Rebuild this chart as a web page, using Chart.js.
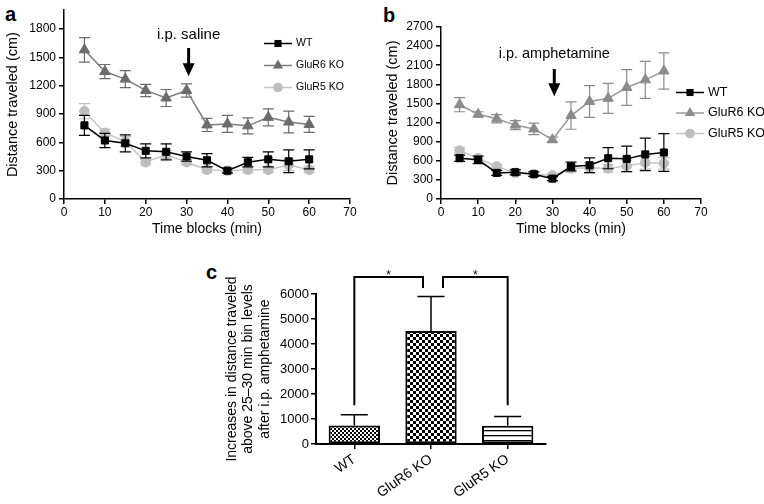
<!DOCTYPE html>
<html>
<head>
<meta charset="utf-8">
<script src="https://cdn.jsdelivr.net/npm/chart.js@4.4.1/dist/chart.umd.min.js"></script>
<style>
  body { margin: 0; background: #fff; width: 764px; height: 504px; position: relative; overflow: hidden; }
  canvas { position: absolute; }
  .tag { position: absolute; font: bold 20px 'Liberation Sans', Arial, sans-serif; line-height: 20px; color: #000; }
</style>
</head>
<body>
<div class="tag" style="left:5px;top:4px">a</div>
<div class="tag" style="left:383px;top:5px">b</div>
<div class="tag" style="left:206px;top:262px">c</div>
<canvas id="chartA" width="360" height="240" style="left:0;top:0"></canvas>
<canvas id="chartB" width="384" height="240" style="left:380px;top:0"></canvas>
<canvas id="chartC" width="350" height="254" style="left:200px;top:250px"></canvas>
<script>
// time bins (min)
const times = [5, 10, 15, 20, 25, 30, 35, 40, 45, 50, 55, 60];
const seriesNames = ['WT', 'GluR6 KO', 'GluR5 KO'];

// panel a: saline
const wtSaline = [780, 620, 590, 510, 500, 450, 410, 300, 390, 420, 400, 420];
const wtSalineErr = [105, 75, 90, 75, 85, 50, 70, 25, 50, 80, 120, 100];
const g6Saline = [1580, 1350, 1270, 1150, 1070, 1150, 785, 795, 775, 865, 815, 790];
const g6SalineErr = [130, 75, 90, 65, 90, 70, 70, 90, 85, 90, 115, 85];
const g5Saline = [930, 700, 610, 390, 470, 390, 310, 300, 310, 310, 360, 310];
const g5SalineErr = [80, 40, 50, 30, 40, 30, 30, 25, 30, 30, 60, 30];

// panel b: amphetamine
const wtAmph = [640, 615, 410, 420, 390, 320, 510, 530, 640, 630, 700, 730];
const wtAmphErr = [50, 60, 40, 40, 35, 30, 70, 115, 165, 200, 255, 295];
const g6Amph = [1480, 1330, 1260, 1160, 1100, 930, 1310, 1530, 1580, 1750, 1870, 2010];
const g6AmphErr = [110, 40, 65, 70, 90, 40, 215, 250, 235, 280, 290, 285];
const g5Amph = [760, 640, 510, 410, 390, 370, 480, 490, 480, 520, 570, 560];
const g5AmphErr = [50, 40, 30, 30, 30, 30, 60, 80, 60, 90, 100, 90];

// panel c: increase above 25-30 min bins
const barNames = ['WT', 'GluR6 KO', 'GluR5 KO'];
const barValues = [745, 4520, 730];
const barErr = [425, 1380, 375];
const sigPairs = [[0, 1], [1, 2]];
const sigLegBase = 1550, sigTop = 6680, sigInner = 6240;

const FONT = "'Liberation Sans', Arial, sans-serif";
Chart.defaults.font.family = FONT;
Chart.defaults.color = '#000';

function pts(vals) {
    return times.map((t, i) => ({ x: t, y: vals[i] }));
}

function drawMarker(ctx, style, x, y, r, color) {
    ctx.fillStyle = color;
    ctx.beginPath();
    if (style === 'rect') {
        const s = Math.SQRT1_2 * r;
        ctx.rect(x - s, y - s, 2 * s, 2 * s);
    } else if (style === 'triangle') {
        ctx.moveTo(x, y - r);
        ctx.lineTo(x + Math.sin(2 * Math.PI / 3) * r, y + r / 2);
        ctx.lineTo(x - Math.sin(2 * Math.PI / 3) * r, y + r / 2);
        ctx.closePath();
    } else {
        ctx.arc(x, y, r, 0, Math.PI * 2);
    }
    ctx.fill();
}

// whiskers under each dataset's markers
const errorBars = {
    id: 'errorBars',
    beforeDatasetDraw(chart, args) {
        const ds = chart.data.datasets[args.index];
        if (!ds.errors) return;
        const { ctx } = chart;
        const yScale = chart.scales.y;
        const cap = ds.capHalf || 5.5;
        ctx.save();
        ctx.strokeStyle = ds.errorColor || ds.borderColor;
        ctx.lineWidth = ds.errorWidth || 1.2;
        args.meta.data.forEach((el, i) => {
            const raw = ds.data[i];
            const v = typeof raw === 'object' ? raw.y : raw;
            const e = ds.errors[i];
            const top = yScale.getPixelForValue(v + e);
            const bot = ds.upOnly ? el.y : yScale.getPixelForValue(v - e);
            ctx.beginPath();
            ctx.moveTo(el.x, top);
            ctx.lineTo(el.x, bot);
            ctx.moveTo(el.x - cap, top);
            ctx.lineTo(el.x + cap, top);
            if (!ds.upOnly) {
                ctx.moveTo(el.x - cap, bot);
                ctx.lineTo(el.x + cap, bot);
            }
            ctx.stroke();
        });
        ctx.restore();
    }
};

// legend with line + marker
const lineLegend = {
    id: 'lineLegend',
    afterDraw(chart, args, opts) {
        const { ctx } = chart;
        chart.data.datasets.forEach((ds, i) => {
            const y = opts.y + i * opts.dy;
            ctx.save();
            ctx.strokeStyle = ds.borderColor;
            ctx.lineWidth = ds.borderWidth;
            ctx.beginPath();
            ctx.moveTo(opts.x, y);
            ctx.lineTo(opts.x + opts.len, y);
            ctx.stroke();
            drawMarker(ctx, ds.pointStyle, opts.x + opts.len / 2, y, ds.pointRadius, ds.pointBackgroundColor);
            ctx.fillStyle = '#000';
            ctx.font = opts.font;
            ctx.textBaseline = 'middle';
            ctx.fillText(ds.label, opts.x + opts.len + opts.gap, y);
            ctx.restore();
        });
    }
};

// injection arrow and label
const doseMark = {
    id: 'doseMark',
    afterDraw(chart, args, opts) {
        const { ctx } = chart;
        const xs = chart.scales.x, ys = chart.scales.y;
        const px = xs.getPixelForValue(opts.at);
        const y0 = ys.getPixelForValue(opts.from);
        const y1 = ys.getPixelForValue(opts.to);
        ctx.save();
        ctx.strokeStyle = '#000';
        ctx.fillStyle = '#000';
        ctx.lineWidth = 3;
        ctx.beginPath();
        ctx.moveTo(px, y0);
        ctx.lineTo(px, y1 - 11);
        ctx.stroke();
        ctx.beginPath();
        ctx.moveTo(px - 6, y1 - 13);
        ctx.lineTo(px + 6, y1 - 13);
        ctx.lineTo(px, y1);
        ctx.closePath();
        ctx.fill();
        ctx.font = opts.font;
        ctx.textAlign = 'center';
        ctx.textBaseline = 'middle';
        ctx.fillText(opts.text, px, ys.getPixelForValue(opts.textY));
        ctx.restore();
    }
};

// significance brackets for panel c
const sigBrackets = {
    id: 'sigBrackets',
    afterDraw(chart) {
        const { ctx } = chart;
        const xs = chart.scales.x, ys = chart.scales.y;
        const yBase = ys.getPixelForValue(sigLegBase);
        const yTop = ys.getPixelForValue(sigTop);
        const yIn = ys.getPixelForValue(sigInner);
        ctx.save();
        ctx.strokeStyle = '#000';
        ctx.fillStyle = '#000';
        ctx.lineWidth = 2;
        sigPairs.forEach(([a, b]) => {
            // the tall bar (index 1) gets the short inner leg
            let xa = xs.getPixelForValue(a), xb = xs.getPixelForValue(b);
            let ya = yBase, yb = yBase;
            if (a === 1) { xa += 12; ya = yIn; }
            if (b === 1) { xb -= 8; yb = yIn; }
            ctx.beginPath();
            ctx.moveTo(xa, ya);
            ctx.lineTo(xa, yTop);
            ctx.lineTo(xb, yTop);
            ctx.lineTo(xb, yb);
            ctx.stroke();
            ctx.font = '12px ' + FONT;
            ctx.textAlign = 'center';
            ctx.textBaseline = 'alphabetic';
            ctx.fillText('*', (xa + xb) / 2, yTop + 2);
        });
        ctx.restore();
    }
};

function lineSet(label, vals, errs, color, lineColor, style, radius) {
    return {
        label: label,
        data: pts(vals),
        errors: errs,
        errorColor: color,
        borderColor: lineColor,
        borderWidth: 1.5,
        backgroundColor: color,
        pointStyle: style,
        pointRadius: radius,
        pointBackgroundColor: color,
        pointBorderColor: color,
        pointBorderWidth: 1,
        tension: 0
    };
}

function axisX(titleText) {
    return {
        type: 'linear', min: 0, max: 70,
        ticks: { stepSize: 10, font: { size: 12 }, padding: 1, color: '#000' },
        grid: { drawOnChartArea: false, tickLength: 5, color: '#000', lineWidth: 1.5 },
        border: { color: '#000', width: 1.5 },
        title: { display: true, text: titleText, font: { size: 14 }, padding: { top: 0, bottom: 2 }, color: '#000' },
        afterFit: (s) => { s.height = 41; }
    };
}

function axisY(maxVal, width) {
    return {
        min: 0, max: maxVal,
        ticks: { stepSize: 300, font: { size: 12 }, padding: 3, color: '#000', callback: (v) => String(v) },
        grid: { drawOnChartArea: false, tickLength: 5, color: '#000', lineWidth: 1.5 },
        border: { color: '#000', width: 1.5 },
        title: { display: true, text: 'Distance traveled (cm)', font: { size: 14.5 }, padding: { top: 4.6, bottom: 0 }, color: '#000' },
        afterBuildTicks: (s) => { s.ticks = s.ticks.filter(t => t.value <= 2700 && t.value % 300 === 0); },
        afterFit: (s) => { s.width = width; }
    };
}

const common = {
    responsive: false,
    animation: false,
    devicePixelRatio: 1,
    events: []
};

new Chart(document.getElementById('chartA'), {
    type: 'line',
    data: {
        datasets: [
            lineSet(seriesNames[0], wtSaline, wtSalineErr, '#000000', '#000000', 'rect', 5),
            lineSet(seriesNames[1], g6Saline, g6SalineErr, '#6c6c6c', '#7c7c7c', 'triangle', 6),
            lineSet(seriesNames[2], g5Saline, g5SalineErr, '#bdbdbd', '#c6c6c6', 'circle', 4.8)
        ]
    },
    options: Object.assign({}, common, {
        layout: { padding: { left: 0, top: 8, right: 10, bottom: 0 } },
        scales: { x: axisX('Time blocks (min)'), y: axisY(2000, 64) },
        plugins: {
            legend: { display: false },
            tooltip: { enabled: false },
            lineLegend: { x: 264, y: 43.5, dy: 22, len: 28, gap: 4, font: '10.5px ' + FONT },
            doseMark: { at: 30.5, from: 1600, to: 1300, textY: 1737, text: 'i.p. saline', font: '15px ' + FONT }
        }
    }),
    plugins: [errorBars, lineLegend, doseMark]
});

new Chart(document.getElementById('chartB'), {
    type: 'line',
    data: {
        datasets: [
            lineSet(seriesNames[0], wtAmph, wtAmphErr, '#000000', '#000000', 'rect', 5),
            lineSet(seriesNames[1], g6Amph, g6AmphErr, '#8c8c8c', '#999999', 'triangle', 6),
            lineSet(seriesNames[2], g5Amph, g5AmphErr, '#bdbdbd', '#c6c6c6', 'circle', 4.8)
        ]
    },
    options: Object.assign({}, common, {
        layout: { padding: { left: 0, top: 27, right: 63, bottom: 0 } },
        scales: { x: axisX('Time blocks (min)'), y: axisY(2700, 61) },
        plugins: {
            legend: { display: false },
            tooltip: { enabled: false },
            lineLegend: { x: 296, y: 92.5, dy: 20.5, len: 28, gap: 4, font: '12.5px ' + FONT },
            doseMark: { at: 30.5, from: 2040, to: 1611, textY: 2284, text: 'i.p. amphetamine', font: '14.5px ' + FONT }
        }
    }),
    plugins: [errorBars, lineLegend, doseMark]
});

// bar fills
const ctxC = document.getElementById('chartC').getContext('2d');
function makePattern(size, paint) {
    const c = document.createElement('canvas');
    c.width = size;
    c.height = size;
    const g = c.getContext('2d');
    g.fillStyle = '#fff';
    g.fillRect(0, 0, size, size);
    g.fillStyle = '#000';
    paint(g, size);
    return ctxC.createPattern(c, 'repeat');
}
const fineCheck = makePattern(4, (g) => { g.fillRect(0, 0, 2, 2); g.fillRect(2, 2, 2, 2); });
const bigCheck = makePattern(6, (g) => { g.fillRect(0, 0, 3, 3); g.fillRect(3, 3, 3, 3); });
const stripes = makePattern(5, (g) => { g.fillRect(0, 0, 5, 1.3); });

new Chart(ctxC, {
    type: 'bar',
    data: {
        labels: barNames,
        datasets: [{
            data: barValues,
            errors: barErr,
            upOnly: true,
            capHalf: 13.5,
            errorColor: '#000',
            errorWidth: 1.5,
            backgroundColor: [fineCheck, bigCheck, stripes],
            borderColor: '#000',
            borderWidth: 2,
            borderSkipped: false,
            barPercentage: 0.67,
            categoryPercentage: 1
        }]
    },
    options: Object.assign({}, common, {
        layout: { padding: { left: 0, top: 44, right: 4, bottom: 0 } },
        scales: {
            x: {
                ticks: { font: { size: 14 }, minRotation: 35, maxRotation: 35, padding: 2, color: '#000' },
                grid: { offset: false, drawOnChartArea: false, tickLength: 5, color: '#000', lineWidth: 1.5 },
                border: { color: '#000', width: 2 },
                afterFit: (s) => { s.height = 60; }
            },
            y: {
                min: 0, max: 6000,
                ticks: { stepSize: 1000, font: { size: 13 }, padding: 2, color: '#000', callback: (v) => String(v) },
                grid: { drawOnChartArea: false, tickLength: 5, color: '#000', lineWidth: 1.5 },
                border: { color: '#000', width: 2 },
                title: {
                    display: true,
                    text: ['Increases in distance traveled', 'above 25\u201330 min bin levels', 'after i.p. amphetamine'],
                    font: { size: 14, lineHeight: 1.2 },
                    padding: { top: 23.3, bottom: 0 },
                    color: '#000'
                },
                afterFit: (s) => { s.width = 116; }
            }
        },
        plugins: { legend: { display: false }, tooltip: { enabled: false } }
    }),
    plugins: [errorBars, sigBrackets]
});
</script>
</body>
</html>
